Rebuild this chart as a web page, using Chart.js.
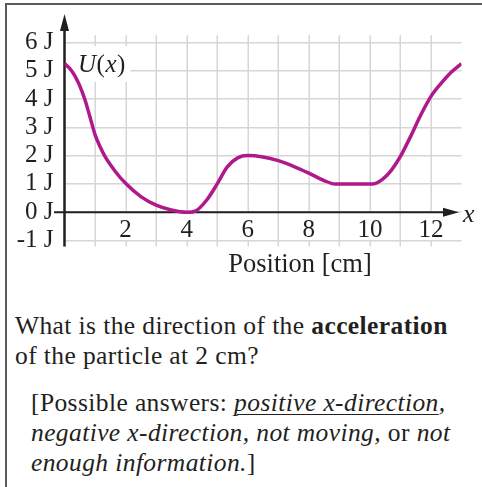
<!DOCTYPE html>
<html>
<head>
<meta charset="utf-8">
<script src="https://cdn.jsdelivr.net/npm/chart.js@4/dist/chart.umd.min.js"></script>
<style>
  html, body { margin: 0; padding: 0; background: #fff; }
  body { width: 482px; height: 487px; position: relative; overflow: hidden;
         font-family: "Liberation Serif", "Times New Roman", serif; color: #231f20; }
  #frame { position: absolute; left: 5px; top: 3px; width: 480px; height: 490px;
           border-top: 2px solid #5a5a5a; border-left: 2px solid #5a5a5a; }
  #chartBox { position: absolute; left: 0; top: 0; width: 482px; height: 290px; }
  .txt { position: absolute; font-size: 25.5px; line-height: 30px; letter-spacing: 0.4px; white-space: nowrap; }
  #question { left: 15px; top: 311px; }
  #answers { left: 31px; top: 388px; line-height: 30.2px; }
  u { text-decoration-thickness: 1px; text-underline-offset: 3px; }
</style>
</head>
<body>
<div id="frame"></div>
<div id="chartBox"><canvas id="chart" width="482" height="290"></canvas></div>
<div id="question" class="txt">What is the direction of the <b>acceleration</b><br>of the particle at 2 cm?</div>
<div id="answers" class="txt">[Possible answers: <i><u>positive x-direction</u>,</i><br><i>negative x-direction, not moving,</i> or <i>not</i><br><i>enough information.</i>]</div>
<script>
// Potential energy curve U(x), position in cm, energy in J
const positions = [0, 0.17, 0.33, 0.5, 0.67, 0.83, 1, 1.17, 1.33, 1.67, 2, 2.5, 3, 3.5, 4, 4.3, 4.67, 5, 5.33, 5.67, 6, 6.5, 7, 7.5, 8, 8.5, 8.85, 9.5, 10.1, 10.4, 10.7, 11, 11.33, 11.67, 12, 12.33, 12.67, 13];
const energies  = [5.25, 5.08, 4.83, 4.46, 3.97, 3.38, 2.74, 2.3, 1.96, 1.43, 1.02, 0.55, 0.25, 0.08, 0, 0.05, 0.45, 1.0, 1.6, 1.92, 2.0, 1.95, 1.82, 1.62, 1.38, 1.12, 1.0, 1.0, 1.0, 1.15, 1.48, 1.97, 2.67, 3.44, 4.09, 4.55, 4.95, 5.25];
const xTickLabels = ['2', '4', '6', '8', '10', '12'];
const yTickValues = [-1, 0, 1, 2, 3, 4, 5, 6];

const INK = '#231f20';
const GRID = '#d6d6d6';
const SERIF = '"Liberation Serif", "Times New Roman", serif';

const points = positions.map((x, i) => ({ x, y: energies[i] }));

// Vertical grid lines, drawn before the scales so the horizontal ones sit on top.
// Lines under a position label leave a gap between the axis and the -1 J line.
const verticalGrid = {
  id: 'verticalGrid',
  beforeDraw(chart) {
    const { ctx, scales: { x, y } } = chart;
    const top = y.getPixelForValue(6) - 7;
    const bottom = y.getPixelForValue(-1) + 6;
    const y0 = y.getPixelForValue(0);
    const yNeg = y.getPixelForValue(-1);
    ctx.save();
    ctx.strokeStyle = GRID;
    ctx.lineWidth = 1.5;
    for (const t of x.ticks) {
      if (t.value <= 0 || t.value >= 13) continue;
      const px = Math.round(x.getPixelForValue(t.value)) + 0.25;
      const labelled = xTickLabels.includes(String(t.value));
      ctx.beginPath();
      if (labelled) {
        ctx.moveTo(px, top); ctx.lineTo(px, y0);
        ctx.moveTo(px, yNeg); ctx.lineTo(px, bottom);
      } else {
        ctx.moveTo(px, top); ctx.lineTo(px, bottom);
      }
      ctx.stroke();
    }
    ctx.restore();
  }
};

// Axes with arrowheads, U(x) tag and caption
const decorations = {
  id: 'decorations',
  beforeDatasetsDraw(chart) {
    const { ctx, scales: { x, y } } = chart;
    const x0 = x.getPixelForValue(0);
    const y0 = y.getPixelForValue(0);
    const bottom = y.getPixelForValue(-1) + 6;
    ctx.save();

    // white tag behind U(x)
    ctx.fillStyle = '#fff';
    ctx.fillRect(x0 + 2, 46, 64, 36);
    ctx.fillStyle = INK;
    ctx.textBaseline = 'alphabetic';
    let tx = 78;
    const ty = 72;
    const parts = [['U', 'italic'], ['(', 'normal'], ['x', 'italic'], [')', 'normal']];
    for (const [s, st] of parts) {
      ctx.font = st + ' 25px ' + SERIF;
      ctx.fillText(s, tx, ty);
      tx += ctx.measureText(s).width + 0.5;
    }

    ctx.strokeStyle = INK;
    ctx.fillStyle = INK;
    // horizontal axis
    ctx.lineWidth = 2;
    ctx.beginPath();
    ctx.moveTo(54, y0);
    ctx.lineTo(446, y0);
    ctx.stroke();
    ctx.beginPath();
    ctx.moveTo(459, y0);
    ctx.lineTo(443, y0 - 4.5);
    ctx.lineTo(443, y0 + 4.5);
    ctx.closePath();
    ctx.fill();
    // vertical axis
    ctx.lineWidth = 2.5;
    ctx.beginPath();
    ctx.moveTo(x0, bottom);
    ctx.lineTo(x0, 30);
    ctx.stroke();
    ctx.beginPath();
    ctx.moveTo(x0, 14);
    ctx.lineTo(x0 - 4.5, 31);
    ctx.lineTo(x0 + 4.5, 31);
    ctx.closePath();
    ctx.fill();

    // axis variable and caption
    ctx.font = 'italic 26px ' + SERIF;
    ctx.fillText('x', 463, 222);
    ctx.font = '26.5px ' + SERIF;
    ctx.textAlign = 'center';
    ctx.fillText('Position [cm]', 300, 272);
    ctx.restore();
  }
};

new Chart(document.getElementById('chart'), {
  type: 'line',
  data: {
    datasets: [{
      data: points,
      borderColor: '#b0198c',
      borderWidth: 3.5,
      pointRadius: 0,
      cubicInterpolationMode: 'monotone',
      fill: false
    }]
  },
  options: {
    responsive: false,
    maintainAspectRatio: false,
    animation: false,
    events: [],
    layout: { padding: { left: 4, right: 20.5, top: 35.5, bottom: 43.5 } },
    plugins: { legend: { display: false }, tooltip: { enabled: false } },
    scales: {
      x: {
        type: 'linear',
        position: { y: 0 },
        min: 0,
        max: 13,
        border: { display: false },
        grid: { display: false, drawTicks: false },
        ticks: {
          stepSize: 1,
          autoSkip: false,
          maxRotation: 0,
          padding: 3,
          color: INK,
          font: { family: SERIF, size: 25 },
          callback: v => xTickLabels.includes(String(v)) ? String(v) : ''
        }
      },
      y: {
        type: 'linear',
        position: 'left',
        min: -1.21,
        max: 6.24,
        afterFit: s => { s.width = 60.5; },
        afterBuildTicks: s => { s.ticks = yTickValues.map(v => ({ value: v })); },
        border: { display: false },
        grid: { color: GRID, lineWidth: 1.5, drawTicks: false },
        ticks: {
          autoSkip: false,
          padding: 11,
          color: INK,
          font: { family: SERIF, size: 25 },
          callback: v => v + ' J'
        }
      }
    }
  },
  plugins: [verticalGrid, decorations]
});
</script>
</body>
</html>
